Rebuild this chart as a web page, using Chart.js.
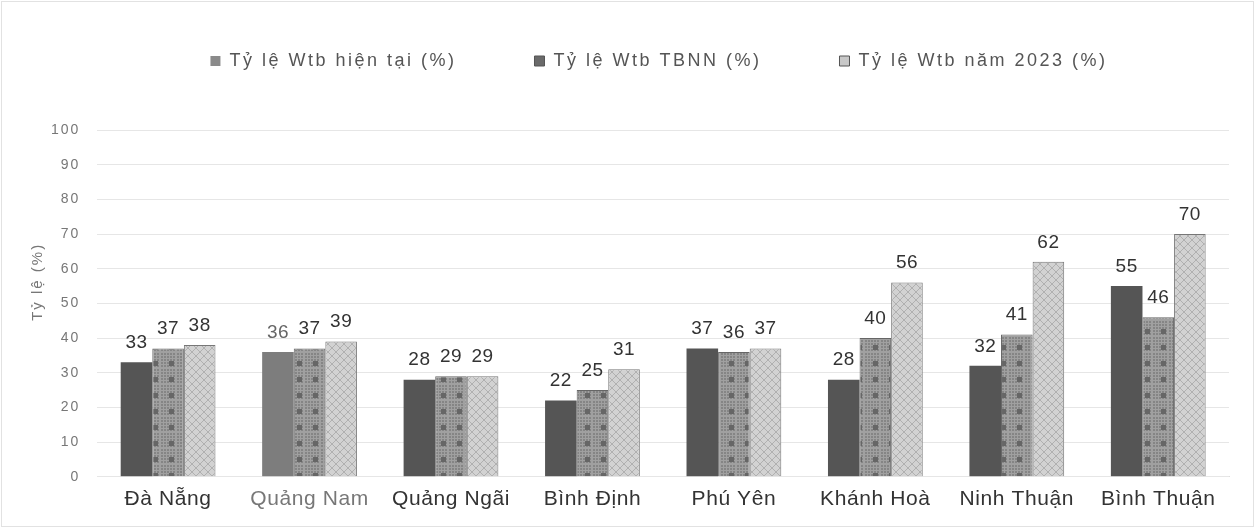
<!DOCTYPE html>
<html>
<head>
<meta charset="utf-8">
<script src="https://cdn.jsdelivr.net/npm/chart.js@4/dist/chart.umd.min.js"></script>
<style>
  html, body { margin: 0; padding: 0; background: #fff; }
  #wrap { width: 1255px; height: 528px; position: relative; }
</style>
</head>
<body>
<div id="wrap"><canvas id="bar_chart"></canvas></div>
<script>
const ctx = document.querySelector('#bar_chart')

const provinces = ["Đà Nẵng", "Quảng Nam", "Quảng Ngãi", "Bình Định", "Phú Yên", "Khánh Hoà", "Ninh Thuận", "Bình Thuận"];
const current = [33, 36, 28, 22, 37, 28, 32, 55];
const tbnn = [37, 37, 29, 25, 36, 40, 41, 46];
const year2023 = [38, 39, 29, 31, 37, 56, 62, 70];
const yTicks = [0, 10, 20, 30, 40, 50, 60, 70, 80, 90, 100];

const FONT = '"Liberation Sans", Arial, sans-serif'

// small tiled patterns to mimic the printed hatching
function makePattern(kind) {
    const c = document.createElement('canvas')
    const g = c.getContext('2d')
    if (kind === 'grid') {
        c.width = 16; c.height = 16
        g.fillStyle = '#858585'
        g.fillRect(0, 0, 16, 16)
        g.fillStyle = '#a0a0a0'
        for (let i = 0; i < 16; i += 3) {
            g.fillRect(i, 0, 1, 16)
            g.fillRect(0, i, 16, 1)
        }
        g.fillStyle = '#666'
        g.fillRect(9, 9, 5, 5)
    } else {
        c.width = 8; c.height = 8
        g.fillStyle = '#d2d2d2'
        g.fillRect(0, 0, 8, 8)
        g.strokeStyle = '#b0b0b0'
        g.lineWidth = 1
        g.beginPath()
        g.moveTo(0, 0); g.lineTo(8, 8)
        g.moveTo(8, 0); g.lineTo(0, 8)
        g.stroke()
    }
    return g.createPattern(c, 'repeat')
}

// the source text is letter-spaced; wrap a box so its measuring and drawing use it
function withSpacing(box, px) {
    ['update', 'draw'].forEach(m => {
        const orig = box[m]
        box[m] = function (...args) {
            const c = this.ctx
            const prev = c.letterSpacing
            c.letterSpacing = px + 'px'
            try { return orig.apply(this, args) } finally { c.letterSpacing = prev }
        }
    })
}

const spacing = {
    id: 'spacing',
    beforeLayout(chart) {
        if (chart.$spaced) return
        chart.$spaced = true
        withSpacing(chart.legend, 2.5)
        withSpacing(chart.scales.x, 0.6)
        withSpacing(chart.scales.y, 2)
    }
}

const valueLabels = {
    id: 'valueLabels',
    afterDatasetsDraw(chart) {
        const c = chart.ctx
        c.save()
        c.font = '19px ' + FONT
        c.letterSpacing = '0.5px'
        c.textAlign = 'center'
        c.textBaseline = 'bottom'
        chart.data.datasets.forEach((ds, i) => {
            chart.getDatasetMeta(i).data.forEach((bar, j) => {
                c.fillStyle = (i === 0 && j === 1) ? '#666' : '#333'
                c.fillText(ds.data[j], bar.x, bar.y - 10)
            })
        })
        c.restore()
    }
}

// legend spacing uses a big padding, so give the plot area back some room
// and nudge the legend right like in the source
const legendGap = {
    id: 'legendGap',
    beforeInit(chart) {
        const fit = chart.legend.fit
        chart.legend.fit = function () {
            fit.bind(chart.legend)()
            this.height += 50
        }
    },
    afterLayout(chart) {
        chart.legend.left += 30
        chart.legend.right += 30
    }
}

const frame = {
    id: 'frame',
    beforeDraw(chart) {
        const c = chart.ctx
        c.save()
        c.strokeStyle = '#e2e2e2'
        c.lineWidth = 1
        c.strokeRect(1.5, 1.5, chart.width - 3, chart.height - 3)
        c.restore()
    }
}

const data = {
    labels: provinces,
    datasets: [
        {
            label: 'Tỷ lệ Wtb hiện tại (%)',
            data: current,
            backgroundColor: ['#555', '#7d7d7d', '#555', '#555', '#555', '#555', '#555', '#555'],
            borderWidth: 0
        },
        {
            label: 'Tỷ lệ Wtb TBNN (%)',
            data: tbnn,
            backgroundColor: makePattern('grid'),
            borderColor: '#666',
            borderWidth: 1
        },
        {
            label: 'Tỷ lệ Wtb năm 2023 (%)',
            data: year2023,
            backgroundColor: makePattern('cross'),
            borderColor: '#777',
            borderWidth: 1
        }
    ]
};

const options = {
    responsive: true,
    maintainAspectRatio: false,
    animation: false,
    categoryPercentage: 0.67,
    barPercentage: 1,
    layout: {
        padding: { top: -26, right: 26, left: 29, bottom: 6 }
    },
    plugins: {
        legend: {
            position: 'top',
            labels: {
                boxWidth: 10,
                boxHeight: 10,
                padding: 78,
                color: '#555',
                font: { size: 18, family: FONT },
                generateLabels(chart) {
                    const fills = ['#8a8a8a', '#6a6a6a', '#c8c8c8']
                    return chart.data.datasets.map((ds, i) => ({
                        text: ds.label,
                        fillStyle: fills[i],
                        strokeStyle: '#555',
                        lineWidth: i === 0 ? 0 : 1,
                        datasetIndex: i,
                        fontColor: '#555'
                    }))
                }
            }
        },
        tooltip: { enabled: false }
    },
    scales: {
        x: {
            grid: { display: false, drawTicks: false },
            border: { display: true, color: '#ddd' },
            ticks: {
                color: ['#333', '#777', '#333', '#333', '#333', '#333', '#333', '#333'],
                padding: 10,
                font: { size: 21, family: FONT }
            }
        },
        y: {
            min: 0,
            max: 100,
            afterBuildTicks(axis) {
                axis.ticks = yTicks.map(v => ({ value: v }))
            },
            grid: { color: '#e6e6e6', drawTicks: false },
            border: { display: false },
            ticks: {
                color: '#777',
                padding: 17,
                font: { size: 14, family: FONT }
            },
            title: {
                display: true,
                // leading spaces lift the title a little above the axis middle
                text: '       Tỷ lệ (%)',
                color: '#777',
                padding: { top: 0, bottom: -13 },
                font: { size: 15, family: FONT }
            }
        }
    }
}

new Chart(ctx, {
    type: 'bar',
    data: data,
    options: options,
    plugins: [valueLabels, legendGap, spacing, frame]
})
</script>
</body>
</html>
